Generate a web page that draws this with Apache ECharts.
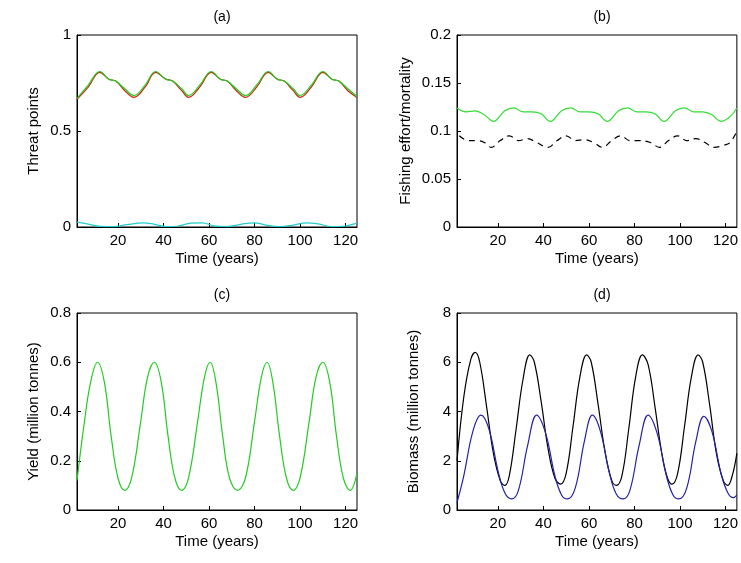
<!DOCTYPE html>
<html>
<head>
<meta charset="utf-8">
<script src="https://cdn.jsdelivr.net/npm/echarts@6/dist/echarts.min.js"></script>
<style>html,body{margin:0;padding:0;background:#fff}#main{width:741px;height:563px}</style>
</head>
<body>
<div id="main"></div>
<script>
// [time, value] pairs
var threatGreen = [[2,0.67],[7,0.74],[12,0.81],[16,0.77],[19,0.76],[23,0.72],[27,0.685],[32,0.74],[36.5,0.81],[41,0.77],[44,0.76],[48,0.72],[51,0.685],[56,0.74],[61,0.81],[65,0.77],[68,0.76],[72,0.72],[76,0.685],[81,0.74],[86,0.81],[90,0.77],[93,0.76],[97,0.72],[100,0.685],[105,0.74],[110,0.81],[114,0.77],[117,0.76],[121,0.72],[125,0.68]];
var threatRed = [[2,0.665],[7,0.73],[12,0.805],[16,0.77],[19,0.76],[23,0.71],[27,0.675],[32,0.73],[36.5,0.805],[41,0.77],[44,0.76],[48,0.71],[51,0.675],[56,0.73],[61,0.805],[65,0.77],[68,0.76],[72,0.71],[76,0.675],[81,0.73],[86,0.805],[90,0.77],[93,0.76],[97,0.71],[100,0.675],[105,0.73],[110,0.805],[114,0.77],[117,0.76],[121,0.71],[125,0.675]];
var threatCyan = [[2,0.025],[7,0.015],[12,0.003],[18,0.002],[24,0.012],[31,0.022],[36,0.014],[41,0.002],[46,0.004],[52,0.02],[57,0.022],[62,0.006],[68,0.002],[74,0.014],[80,0.022],[85,0.01],[91,0.002],[97,0.01],[103,0.022],[108,0.016],[114,0.002],[119,0.004],[125,0.02]];

var effortGreen = [[2,0.124],[6,0.12],[10,0.121],[14,0.117],[18,0.11],[23,0.121],[27,0.124],[31,0.12],[35,0.12],[39,0.118],[43,0.11],[48,0.121],[52,0.124],[56,0.12],[60,0.12],[64,0.118],[68,0.11],[73,0.121],[77,0.124],[81,0.12],[85,0.12],[89,0.118],[93,0.11],[98,0.121],[102,0.124],[106,0.12],[110,0.12],[114,0.117],[118,0.11],[122,0.115],[125,0.124]];
var effortBlack = [[3,0.095],[7,0.09],[11,0.09],[14,0.088],[17,0.083],[21,0.09],[25,0.095],[29,0.09],[33,0.092],[37,0.088],[42,0.083],[46,0.09],[50,0.095],[54,0.09],[58,0.091],[62,0.088],[66,0.083],[70,0.09],[74,0.095],[78,0.09],[82,0.09],[87,0.088],[91,0.083],[95,0.09],[99,0.095],[103,0.09],[107,0.092],[111,0.088],[115,0.083],[119,0.085],[122,0.088],[125,0.1]];

var yieldGreen = [[2,0.12],[5,0.34],[8,0.52],[11,0.6],[14,0.52],[17,0.3],[20,0.13],[23,0.08],[26,0.13],[30,0.36],[33,0.54],[36,0.6],[39,0.52],[42,0.3],[45,0.13],[48,0.08],[51,0.13],[55,0.36],[58,0.54],[60.5,0.6],[63,0.52],[66,0.3],[69,0.13],[72.5,0.08],[76,0.13],[80,0.36],[83,0.54],[85.5,0.6],[88,0.52],[91,0.3],[94,0.13],[97,0.08],[100,0.13],[104,0.36],[107,0.54],[110,0.6],[113,0.52],[116,0.3],[119,0.13],[122,0.08],[125,0.15]];

var biomassBlack = [[2,2.0],[5,4.6],[8,6.1],[10,6.4],[12,6.0],[15,4.2],[18,2.3],[21,1.2],[23,1.0],[25,1.4],[28,3.3],[31,5.3],[34,6.3],[36,6.0],[39,4.4],[42,2.5],[45,1.3],[47.5,1.05],[50,1.5],[53,3.4],[56,5.4],[59,6.3],[61,6.0],[64,4.3],[67,2.4],[70,1.2],[72,1.0],[74.5,1.4],[77.5,3.3],[80.5,5.4],[83.5,6.3],[86,5.9],[89,4.2],[92,2.3],[94.5,1.3],[96.5,1.05],[99,1.5],[102,3.4],[105,5.4],[108,6.3],[110,6.0],[113,4.3],[116,2.3],[119,1.2],[121,1.0],[123,1.4],[125,2.3]];
var biomassBlue = [[2,0.3],[5,1.4],[9,3.2],[12.5,3.85],[16,3.3],[20,1.6],[23,0.7],[26,0.45],[29,0.8],[33,2.6],[37,3.85],[41,3.1],[45,1.4],[48,0.6],[50.5,0.45],[54,0.9],[58,2.8],[61.5,3.85],[65,3.2],[69,1.5],[72,0.65],[75,0.45],[78,0.8],[82,2.6],[86,3.85],[90,3.1],[94,1.4],[97,0.6],[99.5,0.45],[103,0.9],[107,2.8],[110.5,3.8],[114,3.2],[118,1.5],[121,0.7],[123.5,0.5],[125,0.6]];

var xTicks = [20, 40, 60, 80, 100, 120];
var titles = ['(a)', '(b)', '(c)', '(d)'];
var yNames = ['Threat points', 'Fishing effort/mortality', 'Yield (million tonnes)', 'Biomass (million tonnes)'];
var yMax = [1, 0.2, 0.8, 8];
var yStep = [0.5, 0.05, 0.2, 2];

var font = 'Liberation Sans, Arial, sans-serif';
var grids = [
  {left: 77, top: 35, width: 280, height: 192},
  {left: 457, top: 35, width: 280, height: 192},
  {left: 77, top: 313, width: 280, height: 197},
  {left: 457, top: 313, width: 280, height: 197}
];

var chart = echarts.init(document.getElementById('main'));
var option = {
  backgroundColor: '#fff',
  animation: false,
  title: titles.map(function (t, i) {
    return {text: t, left: grids[i].left + grids[i].width / 2, top: grids[i].top - 30, textAlign: 'center',
      textStyle: {fontFamily: font, fontSize: 14, fontWeight: 'normal', color: '#000'}};
  }),
  grid: grids.map(function (g) {
    return Object.assign({show: true, borderColor: '#000', borderWidth: 1, backgroundColor: '#fff'}, g);
  }),
  xAxis: grids.map(function (g, i) {
    return {type: 'value', gridIndex: i, min: 2, max: 125, name: 'Time (years)', nameLocation: 'middle', nameGap: 24,
      nameTextStyle: {fontFamily: font, fontSize: 15, color: '#000'},
      axisLine: {lineStyle: {color: '#000'}},
      axisTick: {inside: true, length: 4, customValues: xTicks, lineStyle: {color: '#000'}},
      axisLabel: {customValues: xTicks, fontFamily: font, fontSize: 15, color: '#000', margin: 6},
      splitLine: {show: false}};
  }),
  yAxis: grids.map(function (g, i) {
    return {type: 'value', gridIndex: i, min: 0, max: yMax[i], interval: yStep[i], name: yNames[i],
      nameLocation: 'middle', nameGap: i === 1 ? 44 : 36,
      nameTextStyle: {fontFamily: font, fontSize: 15, color: '#000'},
      axisLine: {lineStyle: {color: '#000'}},
      axisTick: {inside: true, length: 4, lineStyle: {color: '#000'}},
      axisLabel: {fontFamily: font, fontSize: 15, color: '#000', margin: 6},
      splitLine: {show: false}};
  }),
  series: [
    {data: threatRed, color: '#cc2200', xAxisIndex: 0, yAxisIndex: 0},
    {data: threatGreen, color: '#22cc22', xAxisIndex: 0, yAxisIndex: 0},
    {data: threatCyan, color: '#22cccc', xAxisIndex: 0, yAxisIndex: 0},
    {data: effortGreen, color: '#33dd33', xAxisIndex: 1, yAxisIndex: 1},
    {data: effortBlack, color: '#000', xAxisIndex: 1, yAxisIndex: 1, lineStyle: {type: [6, 5]}},
    {data: yieldGreen, color: '#22cc22', xAxisIndex: 2, yAxisIndex: 2},
    {data: biomassBlack, color: '#000', xAxisIndex: 3, yAxisIndex: 3},
    {data: biomassBlue, color: '#2222aa', xAxisIndex: 3, yAxisIndex: 3}
  ].map(function (s) {
    return Object.assign({type: 'line', smooth: 0.4, showSymbol: false, symbol: 'none'}, s,
      {lineStyle: Object.assign({width: 1.2}, s.lineStyle || {})});
  })
};
chart.setOption(option);
</script>
</body>
</html>
